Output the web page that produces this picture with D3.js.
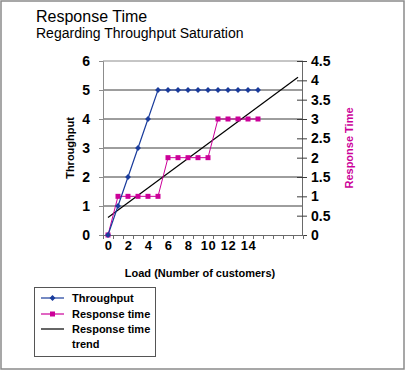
<!DOCTYPE html>
<html>
<head>
<meta charset="utf-8">
<script src="https://cdn.jsdelivr.net/npm/d3@7"></script>
<style>
  body { margin: 0; background: #fff; }
  svg { font-family: Arial, "Liberation Sans", sans-serif; }
</style>
</head>
<body>
<div id="chart"></div>
<script>
// data
const loads = d3.range(0, 20)                       // category slots on the x axis
const loadLabels = [0, 2, 4, 6, 8, 10, 12, 14]
const throughput = [0, 1, 2, 3, 4, 5, 5, 5, 5, 5, 5, 5, 5, 5, 5, 5]
const responseTime = [0, 1, 1, 1, 1, 1, 2, 2, 2, 2, 2, 3, 3, 3, 3, 3]
const trendLoad = [0, 19]
const trendValue = [0.45, 4.08]
const leftTicks = [0, 1, 2, 3, 4, 5, 6]
const rightTicks = [0, 0.5, 1, 1.5, 2, 2.5, 3, 3.5, 4, 4.5]

const blue = "#1a3c9c"
const pink = "#cc0099"

let dimensions = {
    width: 408,
    height: 372,
    plot: { left: 103, right: 303, top: 61, bottom: 235 }
}

const svg = d3.select("#chart").append("svg")
    .attr("width", dimensions.width)
    .attr("height", dimensions.height)

// outer frame
svg.append("rect")
    .attr("x", 1).attr("y", 1)
    .attr("width", 403).attr("height", 368)
    .attr("fill", "#fff")
    .attr("stroke", "#8a8a8a")
    .attr("stroke-width", 1.5)

svg.append("text").attr("x", 36).attr("y", 22)
    .style("font-size", "16px").text("Response Time")
svg.append("text").attr("x", 36).attr("y", 38)
    .style("font-size", "14px").text("Regarding Throughput Saturation")

const p = dimensions.plot

let x = d3.scaleLinear()
    .domain([-0.5, 19.5])
    .range([p.left, p.right])

let yLeft = d3.scaleLinear()
    .domain([0, 6])
    .range([p.bottom, p.top])

let yRight = d3.scaleLinear()
    .domain([0, 4.5])
    .range([p.bottom, p.top])

// gridlines
svg.append("g")
    .selectAll("line")
    .data(leftTicks.slice(1))
    .enter()
    .append("line")
    .attr("x1", p.left).attr("x2", p.right)
    .attr("y1", d => yLeft(d)).attr("y2", d => yLeft(d))
    .attr("stroke", d => d == 6 ? "#8c8c8c" : "#3c3c3c")
    .attr("stroke-width", 1)

// left axis
const leftAxis = svg.append("g")
    .attr("transform", `translate(${p.left},0)`)
    .call(d3.axisLeft(yLeft).tickValues(leftTicks).tickSize(4).tickPadding(9).tickFormat(d3.format("d")))
leftAxis.select(".domain").attr("stroke", "#8c8c8c")
leftAxis.selectAll(".tick line").attr("stroke", "#8c8c8c")
leftAxis.selectAll("text").style("font-size", "14px").style("font-weight", "bold").attr("fill", "#000")

// right axis, ticks crossing the line
const rightAxis = svg.append("g")
    .attr("transform", `translate(${p.right - 1},0)`)
    .call(d3.axisRight(yRight).tickValues(rightTicks).tickSize(5).tickPadding(4).tickFormat(d => d))
rightAxis.select(".domain").attr("stroke", "#6a6a6a")
rightAxis.selectAll(".tick line").attr("x1", -5).attr("stroke", "#3c3c3c")
rightAxis.selectAll("text").style("font-size", "14px").style("font-weight", "bold").attr("fill", "#000")

// bottom axis: tick marks between categories
const bottomTicks = svg.append("g")
    .attr("transform", `translate(0,${p.bottom})`)
    .call(d3.axisBottom(x).tickValues(d3.range(-0.5, 20, 1)).tickSize(4).tickFormat(""))
bottomTicks.select(".domain").attr("stroke", "#6a6a6a")
bottomTicks.selectAll(".tick line").attr("stroke", "#6a6a6a")

const bottomLabels = svg.append("g")
    .attr("transform", `translate(0,${p.bottom})`)
    .call(d3.axisBottom(x).tickValues(loadLabels).tickSize(0).tickPadding(6))
bottomLabels.select(".domain").remove()
bottomLabels.selectAll("text")
    .style("font-size", "13px").style("font-weight", "bold")
    .style("letter-spacing", "0.5px").attr("fill", "#000")

// axis titles
svg.append("text")
    .attr("transform", "translate(74,148) rotate(-90)")
    .attr("text-anchor", "middle")
    .style("font-size", "11px").style("font-weight", "bold")
    .text("Throughput")

svg.append("text")
    .attr("transform", "translate(353,148) rotate(-90)")
    .attr("text-anchor", "middle")
    .style("font-size", "11px").style("font-weight", "bold")
    .attr("fill", pink)
    .text("Response Time")

svg.append("text")
    .attr("x", 200).attr("y", 277)
    .attr("text-anchor", "middle")
    .style("font-size", "11px").style("font-weight", "bold")
    .text("Load (Number of customers)")

// trend line
svg.append("line")
    .attr("x1", x(trendLoad[0])).attr("y1", yRight(trendValue[0]))
    .attr("x2", x(trendLoad[1])).attr("y2", yRight(trendValue[1]))
    .attr("stroke", "#000").attr("stroke-width", 1.2)

// response time series
const rtLine = d3.line()
    .x((d, i) => x(loads[i]))
    .y(d => yRight(d))
svg.append("path")
    .datum(responseTime)
    .attr("d", rtLine)
    .attr("fill", "none").attr("stroke", pink).attr("stroke-width", 1)
svg.append("g")
    .selectAll("rect")
    .data(responseTime)
    .enter()
    .append("rect")
    .attr("x", (d, i) => x(loads[i]) - 2.5)
    .attr("y", d => yRight(d) - 2.5)
    .attr("width", 5).attr("height", 5)
    .attr("fill", pink)

// throughput series
const tpLine = d3.line()
    .x((d, i) => x(loads[i]))
    .y(d => yLeft(d))
svg.append("path")
    .datum(throughput)
    .attr("d", tpLine)
    .attr("fill", "none").attr("stroke", blue).attr("stroke-width", 1.2)
const diamond = d3.symbol().type(d3.symbolDiamond2).size(22)
svg.append("g")
    .selectAll("path")
    .data(throughput)
    .enter()
    .append("path")
    .attr("d", diamond)
    .attr("transform", (d, i) => `translate(${x(loads[i])},${yLeft(d)})`)
    .attr("fill", blue)

// legend
const legend = svg.append("g")
svg.append("rect")
    .attr("x", 34.5).attr("y", 287.5)
    .attr("width", 121).attr("height", 69)
    .attr("fill", "none").attr("stroke", "#555")

const legendItems = [
    { name: ["Throughput"], y: 298, color: blue, marker: "diamond" },
    { name: ["Response time"], y: 314, color: pink, marker: "square" },
    { name: ["Response time", "trend"], y: 329, color: "#000", marker: null }
]
legendItems.forEach(function(item) {
    legend.append("line")
        .attr("x1", 41).attr("x2", 64)
        .attr("y1", item.y).attr("y2", item.y)
        .attr("stroke", item.color).attr("stroke-width", 1.2)
    if (item.marker == "diamond") {
        legend.append("path").attr("d", diamond)
            .attr("transform", `translate(52.5,${item.y})`).attr("fill", item.color)
    }
    if (item.marker == "square") {
        legend.append("rect")
            .attr("x", 50).attr("y", item.y - 2.5)
            .attr("width", 5).attr("height", 5).attr("fill", item.color)
    }
    item.name.forEach(function(line, k) {
        legend.append("text")
            .attr("x", 72).attr("y", item.y + 4 + k * 15)
            .style("font-size", "11px").style("font-weight", "bold")
            .text(line)
    })
})
</script>
</body>
</html>
